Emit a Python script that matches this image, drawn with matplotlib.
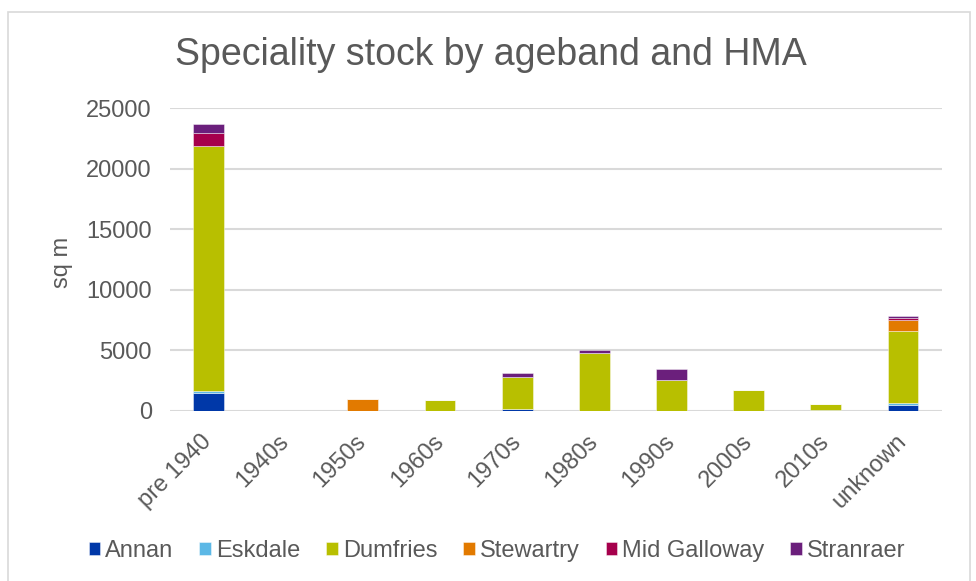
"""Speciality stock by ageband and HMA - stacked column chart."""

import matplotlib
matplotlib.use("Agg")
import matplotlib.pyplot as plt
import numpy as np
from matplotlib.patches import Rectangle

plt.rcParams["font.family"] = ["Liberation Sans", "DejaVu Sans"]

agebands = ["pre 1940", "1940s", "1950s", "1960s", "1970s", "1980s",
            "1990s", "2000s", "2010s", "unknown"]

annan = [1440, 0, 0, 0, 150, 0, 0, 0, 60, 470]
eskdale = [190, 0, 0, 0, 0, 0, 0, 0, 0, 170]
dumfries = [20240, 0, 0, 830, 2600, 4720, 2560, 1680, 440, 5920]
stewartry = [0, 0, 930, 0, 0, 0, 0, 0, 0, 910]
mid_galloway = [1060, 0, 0, 0, 0, 0, 0, 0, 0, 190]
stranraer = [790, 0, 0, 0, 390, 270, 880, 0, 0, 170]

series = [
    ("Annan", annan, "#0038A8"),
    ("Eskdale", eskdale, "#5CB8E6"),
    ("Dumfries", dumfries, "#B8BF00"),
    ("Stewartry", stewartry, "#E27A00"),
    ("Mid Galloway", mid_galloway, "#A6004C"),
    ("Stranraer", stranraer, "#6B1F7C"),
]

TEXT = "#595959"
GRID = "#D9D9D9"

fig = plt.figure(figsize=(9.76, 5.81), dpi=100)
fig.patches.append(Rectangle((8 / 976, -0.01), 962 / 976, 1 - 12 / 581 + 0.01,
                             transform=fig.transFigure, fill=False,
                             edgecolor=GRID, linewidth=1.2))

ax = fig.add_axes([170 / 976, 1 - 410.5 / 581, 771.6 / 976, 302.2 / 581])

x = np.arange(len(agebands))
bottom = np.zeros(len(agebands))
for name, vals, color in series:
    vals = np.array(vals, dtype=float)
    ax.bar(x, vals, width=0.4, bottom=bottom, color=color, label=name,
           edgecolor=(1, 1, 1, 0.5), linewidth=0.6, zorder=3)
    bottom += vals

ax.set_ylim(0, 25000)
ax.set_xlim(-0.5, len(agebands) - 0.5)
ax.set_yticks(range(0, 25001, 5000))
ax.yaxis.grid(True, color=GRID, linewidth=1.5, zorder=0)
ax.set_axisbelow(True)
for s in ax.spines.values():
    s.set_visible(False)
ax.tick_params(length=0, labelsize=17, colors=TEXT)
ax.tick_params(axis="y", pad=13)
ax.set_xticks(x)
ax.set_xticklabels(agebands, rotation=45, ha="right", va="center",
                   rotation_mode="anchor")
ax.tick_params(axis="x", pad=20)
ax.set_ylabel("sq m", fontsize=17, color=TEXT)
ax.yaxis.set_label_coords(-0.126, 0.49)

fig.text(491 / 976, 1 - 55 / 581, "Speciality stock by ageband and HMA",
         ha="center", va="center", fontsize=27, color=TEXT)

fig.legend(loc="center", bbox_to_anchor=(497 / 976, 1 - 551 / 581), ncol=6,
           frameon=False, fontsize=17, handlelength=0.5, handleheight=0.5,
           handletextpad=0.2, columnspacing=1.1, labelcolor=TEXT)

fig.savefig("out.png", dpi=100)
